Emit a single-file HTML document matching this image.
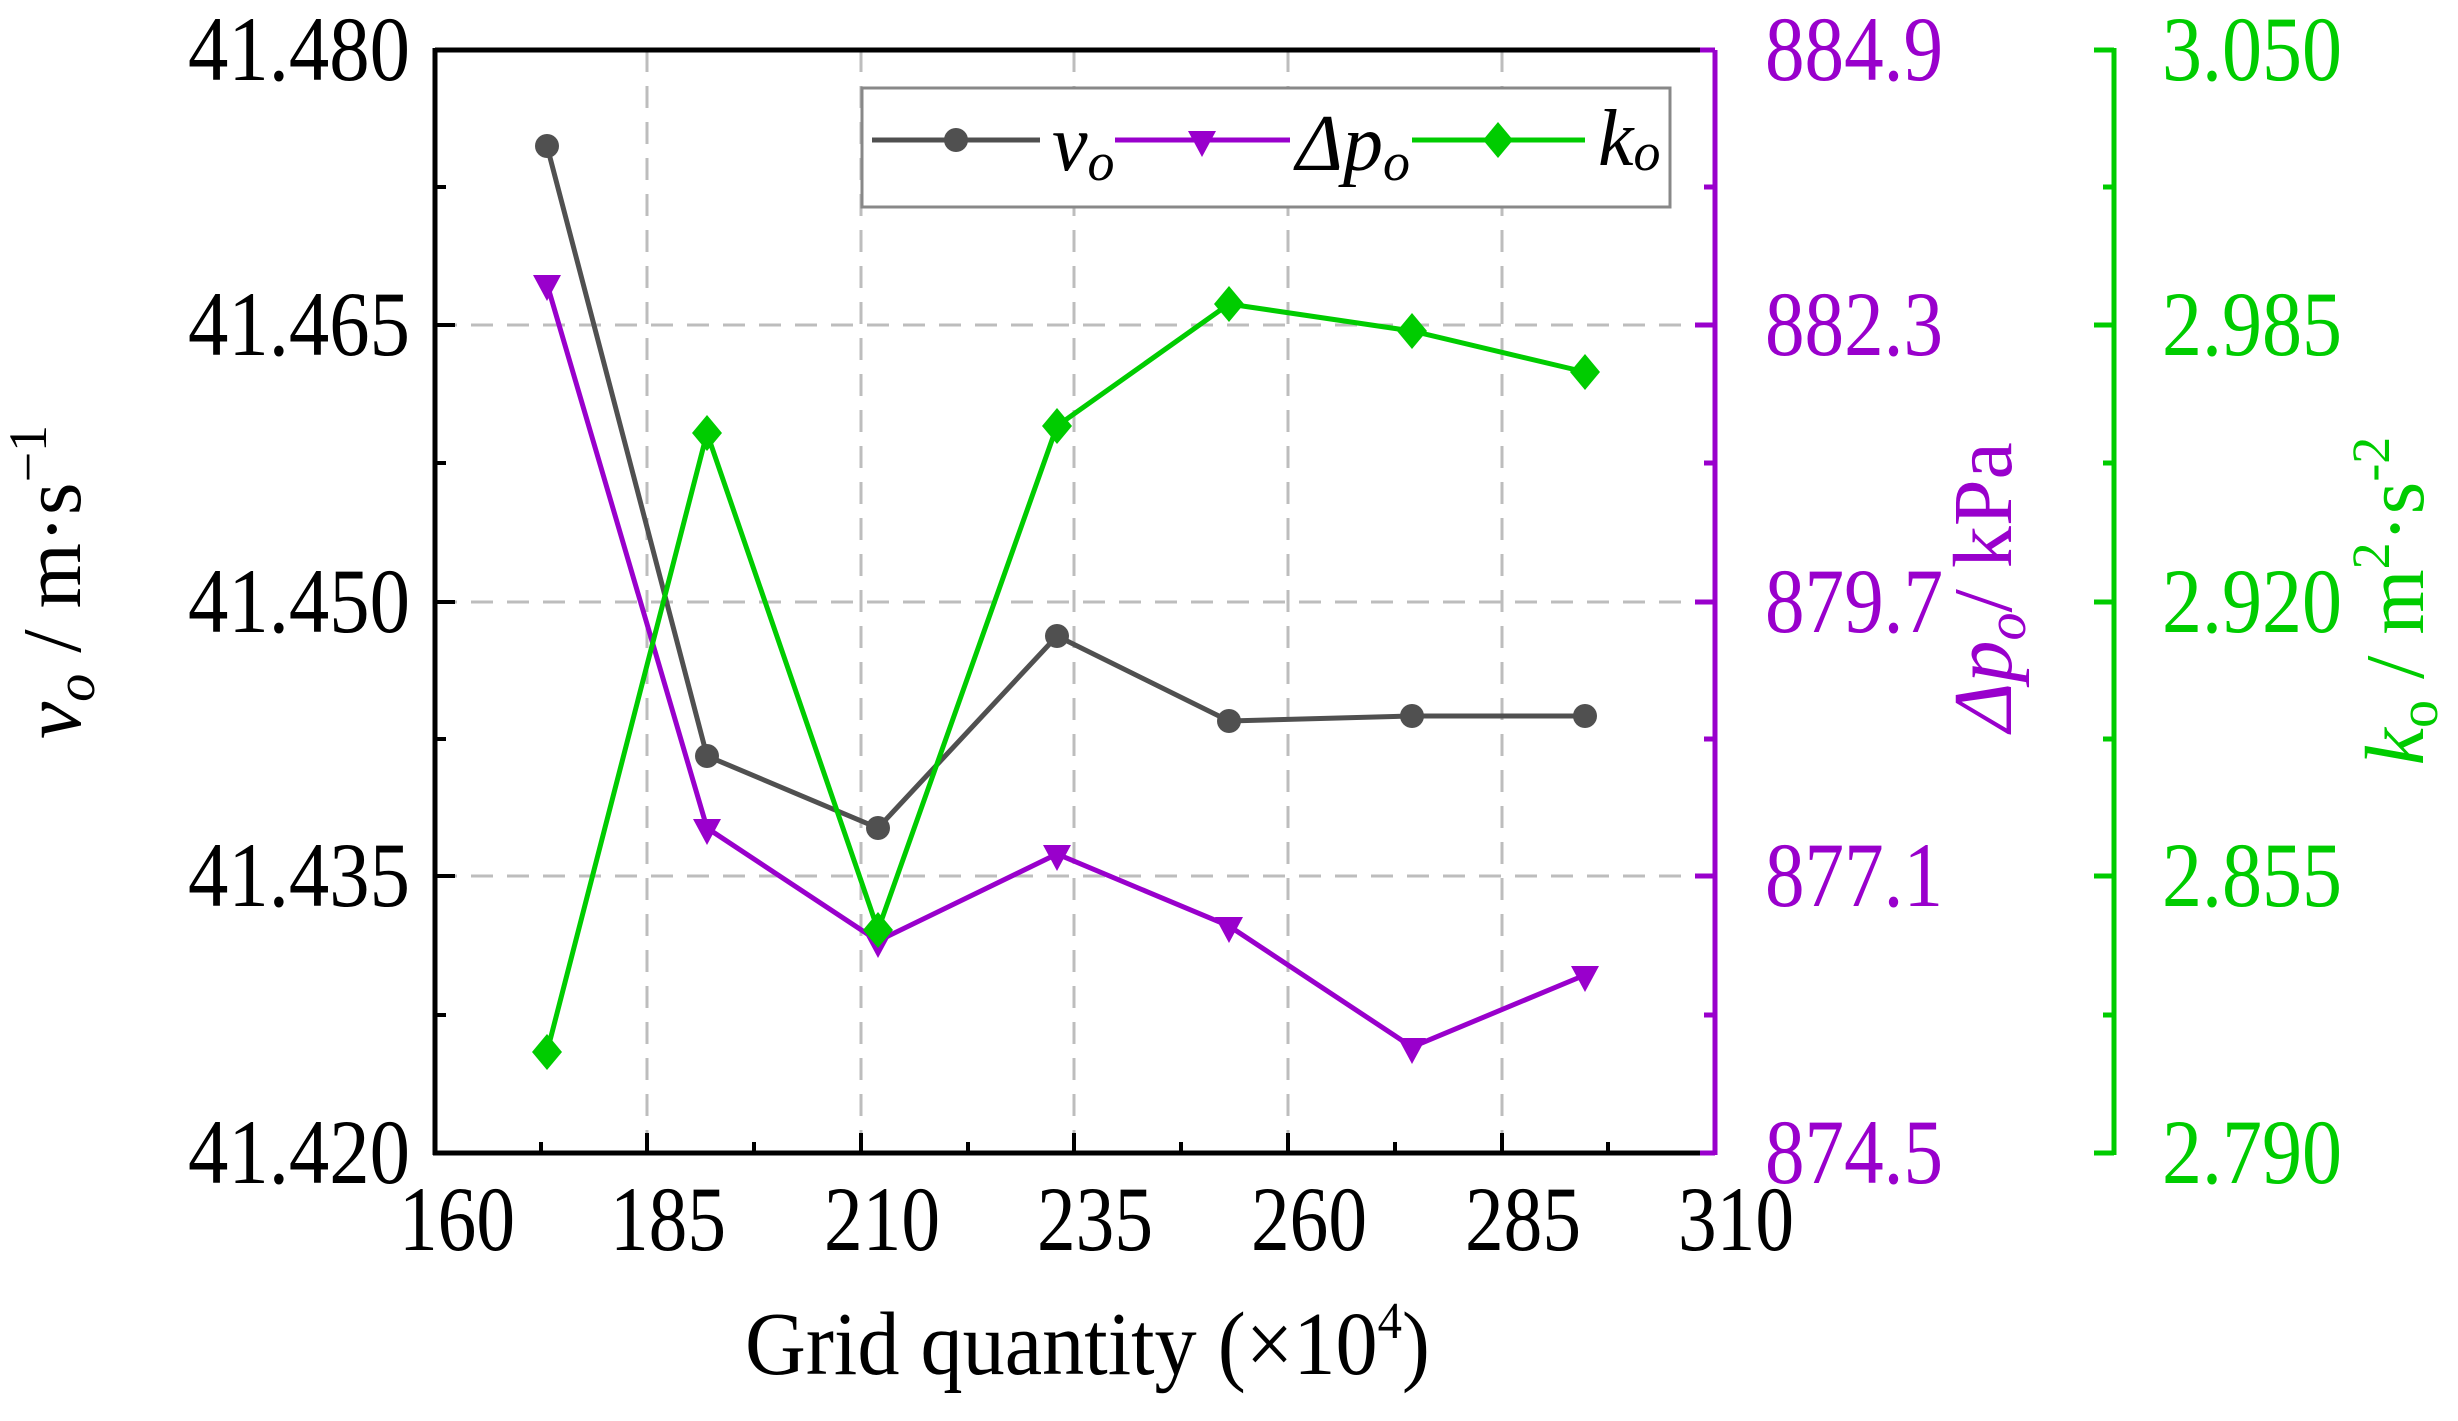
<!DOCTYPE html>
<html><head><meta charset="utf-8"><style>html,body{margin:0;padding:0;background:#fff}svg{display:block}</style></head>
<body>
<svg width="2458" height="1421" viewBox="0 0 2458 1421" xmlns="http://www.w3.org/2000/svg" font-family="Liberation Serif, serif">
<g stroke="#bdbdbd" stroke-width="3" stroke-dasharray="22,14">
<line x1="647" y1="50" x2="647" y2="1153"/><line x1="861" y1="50" x2="861" y2="1153"/><line x1="1074" y1="50" x2="1074" y2="1153"/><line x1="1288" y1="50" x2="1288" y2="1153"/><line x1="1502" y1="50" x2="1502" y2="1153"/>
<line x1="435" y1="325" x2="1715" y2="325"/><line x1="435" y1="602" x2="1715" y2="602"/><line x1="435" y1="876" x2="1715" y2="876"/>
</g>
<g stroke="#000" stroke-width="5" fill="none">
<line x1="435" y1="50" x2="1715" y2="50"/>
<line x1="435" y1="48" x2="435" y2="1155"/>
<line x1="433" y1="1153" x2="1715" y2="1153"/>
</g>
<g stroke="#000" stroke-width="4">
<line x1="435" y1="325" x2="455" y2="325"/><line x1="435" y1="602" x2="455" y2="602"/><line x1="435" y1="876" x2="455" y2="876"/>
<line x1="435" y1="187" x2="446" y2="187"/><line x1="435" y1="463" x2="446" y2="463"/><line x1="435" y1="739" x2="446" y2="739"/><line x1="435" y1="1015" x2="446" y2="1015"/>
<line x1="647" y1="1153" x2="647" y2="1133"/><line x1="861" y1="1153" x2="861" y2="1133"/><line x1="1074" y1="1153" x2="1074" y2="1133"/><line x1="1288" y1="1153" x2="1288" y2="1133"/><line x1="1502" y1="1153" x2="1502" y2="1133"/>
<line x1="541" y1="1153" x2="541" y2="1142"/><line x1="754" y1="1153" x2="754" y2="1142"/><line x1="968" y1="1153" x2="968" y2="1142"/><line x1="1181" y1="1153" x2="1181" y2="1142"/><line x1="1395" y1="1153" x2="1395" y2="1142"/><line x1="1608" y1="1153" x2="1608" y2="1142"/>
</g>
<g stroke="#9900cc" stroke-width="5">
<line x1="1715" y1="50" x2="1715" y2="1155"/>
<line x1="1700" y1="50" x2="1715" y2="50"/><line x1="1695" y1="325" x2="1715" y2="325"/><line x1="1695" y1="602" x2="1715" y2="602"/><line x1="1695" y1="876" x2="1715" y2="876"/><line x1="1700" y1="1153" x2="1715" y2="1153"/>
<line x1="1704" y1="187" x2="1715" y2="187"/><line x1="1704" y1="463" x2="1715" y2="463"/><line x1="1704" y1="739" x2="1715" y2="739"/><line x1="1704" y1="1015" x2="1715" y2="1015"/>
</g>
<g stroke="#00cc00" stroke-width="5">
<line x1="2114" y1="48" x2="2114" y2="1155"/>
<line x1="2094" y1="50" x2="2114" y2="50"/><line x1="2094" y1="325" x2="2114" y2="325"/><line x1="2094" y1="602" x2="2114" y2="602"/><line x1="2094" y1="876" x2="2114" y2="876"/><line x1="2094" y1="1153" x2="2114" y2="1153"/>
<line x1="2103" y1="187" x2="2114" y2="187"/><line x1="2103" y1="463" x2="2114" y2="463"/><line x1="2103" y1="739" x2="2114" y2="739"/><line x1="2103" y1="1015" x2="2114" y2="1015"/>
</g>
<g font-size="92" fill="#000" text-anchor="end">
<text x="410" y="80" textLength="222" lengthAdjust="spacingAndGlyphs">41.480</text>
<text x="410" y="355" textLength="222" lengthAdjust="spacingAndGlyphs">41.465</text>
<text x="410" y="632" textLength="222" lengthAdjust="spacingAndGlyphs">41.450</text>
<text x="410" y="906" textLength="222" lengthAdjust="spacingAndGlyphs">41.435</text>
<text x="410" y="1183" textLength="222" lengthAdjust="spacingAndGlyphs">41.420</text>
</g>
<g font-size="92" fill="#9900cc">
<text x="1765" y="80" textLength="178" lengthAdjust="spacingAndGlyphs">884.9</text>
<text x="1765" y="355" textLength="178" lengthAdjust="spacingAndGlyphs">882.3</text>
<text x="1765" y="632" textLength="178" lengthAdjust="spacingAndGlyphs">879.7</text>
<text x="1765" y="906" textLength="178" lengthAdjust="spacingAndGlyphs">877.1</text>
<text x="1765" y="1183" textLength="178" lengthAdjust="spacingAndGlyphs">874.5</text>
</g>
<g font-size="92" fill="#00cc00">
<text x="2162" y="80" textLength="180" lengthAdjust="spacingAndGlyphs">3.050</text>
<text x="2162" y="355" textLength="180" lengthAdjust="spacingAndGlyphs">2.985</text>
<text x="2162" y="632" textLength="180" lengthAdjust="spacingAndGlyphs">2.920</text>
<text x="2162" y="906" textLength="180" lengthAdjust="spacingAndGlyphs">2.855</text>
<text x="2162" y="1183" textLength="180" lengthAdjust="spacingAndGlyphs">2.790</text>
</g>
<g font-size="92" fill="#000" text-anchor="middle">
<text x="457" y="1250" textLength="116" lengthAdjust="spacingAndGlyphs">160</text>
<text x="668" y="1250" textLength="116" lengthAdjust="spacingAndGlyphs">185</text>
<text x="882" y="1250" textLength="116" lengthAdjust="spacingAndGlyphs">210</text>
<text x="1095" y="1250" textLength="116" lengthAdjust="spacingAndGlyphs">235</text>
<text x="1309" y="1250" textLength="116" lengthAdjust="spacingAndGlyphs">260</text>
<text x="1523" y="1250" textLength="116" lengthAdjust="spacingAndGlyphs">285</text>
<text x="1736" y="1250" textLength="116" lengthAdjust="spacingAndGlyphs">310</text>
</g>
<text x="745" y="1374" font-size="90" fill="#000" textLength="685" lengthAdjust="spacingAndGlyphs">Grid quantity (×10<tspan dy="-36" font-size="52">4</tspan><tspan dy="36">)</tspan></text>
<text transform="translate(80,582) rotate(-90)" text-anchor="middle" font-size="84" fill="#000"><tspan font-style="italic">v</tspan><tspan font-style="italic" font-size="56" dy="14">o</tspan><tspan dy="-14"> / m·s</tspan><tspan font-size="54" dy="-34">−1</tspan></text>
<text transform="translate(2011,587) rotate(-90)" text-anchor="middle" font-size="84" fill="#9900cc"><tspan font-style="italic">Δp</tspan><tspan font-style="italic" font-size="56" dy="14">o</tspan><tspan dy="-14">/ kPa</tspan></text>
<text transform="translate(2423,601) rotate(-90)" text-anchor="middle" font-size="84" fill="#00cc00"><tspan font-style="italic">k</tspan><tspan font-size="56" dy="14">o</tspan><tspan dy="-14"> / m</tspan><tspan font-size="54" dy="-34">2</tspan><tspan dy="34">·s</tspan><tspan font-size="54" dy="-34">-2</tspan></text>
<polyline fill="none" stroke="#505050" stroke-width="5" points="547,146 707,756 878,828 1057,636 1229,721 1412,716 1585,716"/>
<g fill="#505050">
<circle cx="547" cy="146" r="12"/><circle cx="707" cy="756" r="12"/><circle cx="878" cy="828" r="12"/><circle cx="1057" cy="636" r="12"/><circle cx="1229" cy="721" r="12"/><circle cx="1412" cy="716" r="12"/><circle cx="1585" cy="716" r="12"/>
</g>
<polyline fill="none" stroke="#9900cc" stroke-width="5" points="547,284 707,828 878,941 1057,854 1229,926 1412,1047 1585,975"/>
<g fill="#9900cc">
<path d="M533,275 h28 l-14,26z"/><path d="M693,819 h28 l-14,26z"/><path d="M864,932 h28 l-14,26z"/><path d="M1043,845 h28 l-14,26z"/><path d="M1215,917 h28 l-14,26z"/><path d="M1398,1038 h28 l-14,26z"/><path d="M1571,966 h28 l-14,26z"/>
</g>
<polyline fill="none" stroke="#00cc00" stroke-width="5" points="547,1052 707,433 878,930 1057,426 1229,304 1412,331 1585,372"/>
<g fill="#00cc00">
<path d="M547,1034 l15,18 l-15,18 l-15,-18z"/><path d="M707,415 l15,18 l-15,18 l-15,-18z"/><path d="M878,912 l15,18 l-15,18 l-15,-18z"/><path d="M1057,408 l15,18 l-15,18 l-15,-18z"/><path d="M1229,286 l15,18 l-15,18 l-15,-18z"/><path d="M1412,313 l15,18 l-15,18 l-15,-18z"/><path d="M1585,354 l15,18 l-15,18 l-15,-18z"/>
</g>
<rect x="862" y="88" width="808" height="119" fill="#fff" stroke="#888" stroke-width="3"/>
<line x1="872" y1="140" x2="1040" y2="140" stroke="#505050" stroke-width="5"/>
<circle cx="956" cy="140" r="12" fill="#505050"/>
<text x="1052" y="170" font-size="80" font-style="italic">v<tspan font-size="54" dy="10">o</tspan></text>
<line x1="1115" y1="140" x2="1290" y2="140" stroke="#9900cc" stroke-width="5"/>
<path d="M1188,131 h28 l-14,26z" fill="#9900cc"/>
<text x="1296" y="170" font-size="80" font-style="italic">Δp<tspan font-size="54" dy="10">o</tspan></text>
<line x1="1412" y1="140" x2="1585" y2="140" stroke="#00cc00" stroke-width="5"/>
<path d="M1498,122 l15,18 l-15,18 l-15,-18z" fill="#00cc00"/>
<text x="1598" y="165" font-size="80" font-style="italic">k<tspan font-size="54" dy="5">o</tspan></text>
</svg>
</body></html>
